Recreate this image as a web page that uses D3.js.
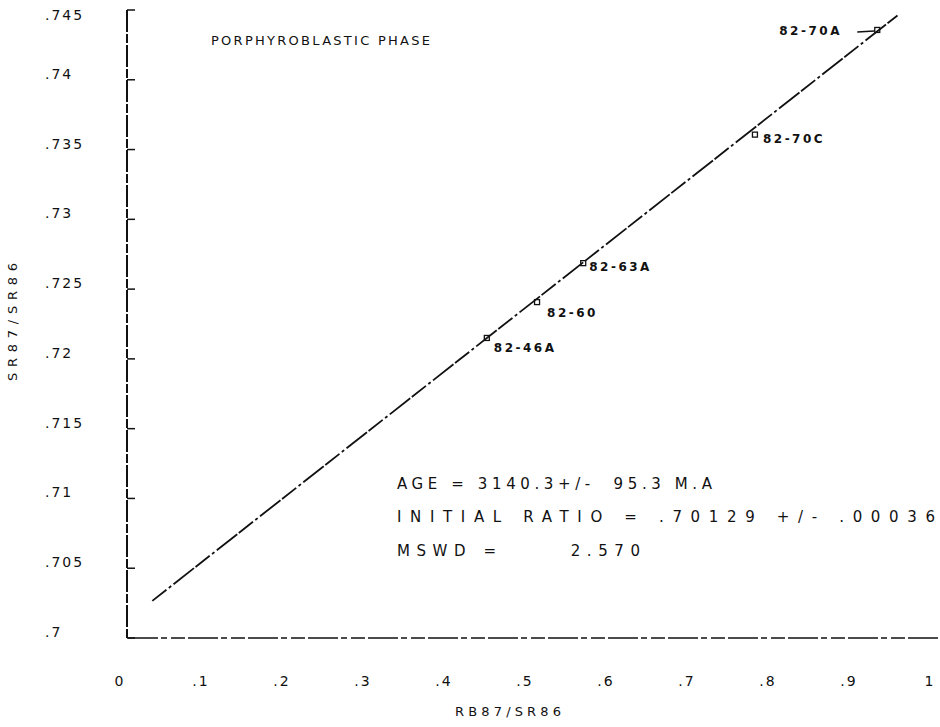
<!DOCTYPE html>
<html>
<head>
<meta charset="utf-8">
<script src="https://cdn.jsdelivr.net/npm/d3@7"></script>
<style>
  body { margin: 0; background: #fff; }
  text { font-family: "DejaVu Sans", sans-serif; fill: #111; white-space: pre; }
</style>
</head>
<body>
<div id="chart"></div>
<script>
// samples (Rb87/Sr86, Sr87/Sr86)
const sampleNames = ["82-46A", "82-60", "82-63A", "82-70C", "82-70A"];
const rbSr = [0.443, 0.505, 0.562, 0.774, 0.925];
const srSr = [0.7215, 0.72407, 0.72686, 0.73607, 0.74357];

// isochron fit
const intercept = 0.70129;
const slope = 0.0456;
const lineRange = [0.03, 0.95];

const xTicks = [0, 0.1, 0.2, 0.3, 0.4, 0.5, 0.6, 0.7, 0.8, 0.9, 1];
const xTickLabels = ["0", ".1", ".2", ".3", ".4", ".5", ".6", ".7", ".8", ".9", "1"];
const yTicks = [0.7, 0.705, 0.71, 0.715, 0.72, 0.725, 0.73, 0.735, 0.74, 0.745];
const yTickLabels = [".7", ".705", ".71", ".715", ".72", ".725", ".73", ".735", ".74", ".745"];

const title = "PORPHYROBLASTIC PHASE";
const statLines = ["AGE = 3140.3+/-  95.3 M.A", "INITIAL RATIO = .70129 +/- .00036", "MSWD =      2.570"];

const W = 940, H = 727;
const margin = {top: 10, right: 2, bottom: 89, left: 128};

const svg = d3.select("#chart").append("svg")
  .attr("width", W).attr("height", H);

// scales
const x = d3.scaleLinear().domain([0, 1]).range([margin.left, margin.left + 810]);
const y = d3.scaleLinear().domain([0.7, 0.745]).range([H - margin.bottom, margin.top]);

// y axis: line + inward ticks
svg.append("line")
  .attr("x1", x(0) - 1).attr("x2", x(0) - 1)
  .attr("y1", y(0.745)).attr("y2", y(0.7))
  .attr("stroke", "#111").attr("stroke-width", 2)
  .attr("stroke-dasharray", "22,2,9,2");

svg.append("g").selectAll("line").data(yTicks).join("line")
  .attr("x1", x(0) - 1).attr("x2", x(0) + 7)
  .attr("y1", d => y(d)).attr("y2", d => y(d))
  .attr("stroke", "#111").attr("stroke-width", 1.5);

svg.append("g").selectAll("text").data(yTicks).join("text")
  .attr("x", 45).attr("y", d => Math.max(y(d) - 5, 16))
  .attr("dominant-baseline", "middle")
  .attr("font-size", 14)
  .attr("letter-spacing", 2)
  .text((d, i) => yTickLabels[i]);

// x axis: broken baseline
svg.append("line")
  .attr("x1", x(0)).attr("x2", x(1))
  .attr("y1", y(0.7)).attr("y2", y(0.7))
  .attr("stroke", "#111").attr("stroke-width", 1.6)
  .attr("stroke-dasharray", "30,3,6,4,14,3");

svg.append("g").selectAll("text").data(xTicks).join("text")
  .attr("x", d => x(d) - 8).attr("y", 686)
  .attr("text-anchor", "middle")
  .attr("font-size", 14)
  .attr("letter-spacing", 2)
  .text((d, i) => xTickLabels[i]);

// isochron line
svg.append("line")
  .attr("x1", x(lineRange[0])).attr("y1", y(intercept + slope * lineRange[0]))
  .attr("x2", x(lineRange[1])).attr("y2", y(intercept + slope * lineRange[1]))
  .attr("stroke", "#111").attr("stroke-width", 1.8)
  .attr("stroke-dasharray", "18,3,3,3,26,2");

// sample markers
const pts = sampleNames.map((n, i) => ({name: n, x: rbSr[i], y: srSr[i]}));
svg.append("g").selectAll("rect").data(pts).join("rect")
  .attr("x", d => x(d.x) - 2.5).attr("y", d => y(d.y) - 2.5)
  .attr("width", 5).attr("height", 5)
  .attr("fill", "none").attr("stroke", "#111").attr("stroke-width", 1.3);

// sample labels (offsets per label as in the plot)
const labelOff = {
  "82-46A": [7, 11], "82-60": [10, 11], "82-63A": [6, 4],
  "82-70C": [8, 5], "82-70A": [-98, 2]
};
svg.append("g").selectAll("text").data(pts).join("text")
  .attr("x", d => x(d.x) + labelOff[d.name][0])
  .attr("y", d => y(d.y) + labelOff[d.name][1])
  .attr("dominant-baseline", "middle")
  .attr("font-size", 12)
  .attr("font-weight", "bold")
  .attr("letter-spacing", 2.5)
  .text(d => d.name);

// leader for 82-70A
const p70a = pts[4];
svg.append("line")
  .attr("x1", x(p70a.x) - 20).attr("x2", x(p70a.x) - 3)
  .attr("y1", y(p70a.y) + 2).attr("y2", y(p70a.y) + 1)
  .attr("stroke", "#111").attr("stroke-width", 1.5);

// title
svg.append("text")
  .attr("x", 211).attr("y", 41)
  .attr("dominant-baseline", "middle")
  .attr("font-size", 13)
  .attr("textLength", 219).attr("lengthAdjust", "spacing")
  .text(title);

// statistics block
const statWidths = [315, 538, 243];
svg.append("g").selectAll("text").data(statLines).join("text")
  .attr("x", 397).attr("y", (d, i) => 484 + i * 33.5)
  .attr("dominant-baseline", "middle")
  .attr("font-size", 15)
  .attr("textLength", (d, i) => statWidths[i]).attr("lengthAdjust", "spacing")
  .text(d => d);

// axis titles
svg.append("text")
  .attr("x", 508).attr("y", 712)
  .attr("text-anchor", "middle").attr("dominant-baseline", "middle")
  .attr("font-size", 13)
  .attr("textLength", 106).attr("lengthAdjust", "spacing")
  .text("RB87/SR86");

svg.append("text")
  .attr("transform", "translate(13,322) rotate(-90)")
  .attr("text-anchor", "middle").attr("dominant-baseline", "middle")
  .attr("font-size", 13)
  .attr("textLength", 118).attr("lengthAdjust", "spacing")
  .text("SR87/SR86");
</script>
</body>
</html>
